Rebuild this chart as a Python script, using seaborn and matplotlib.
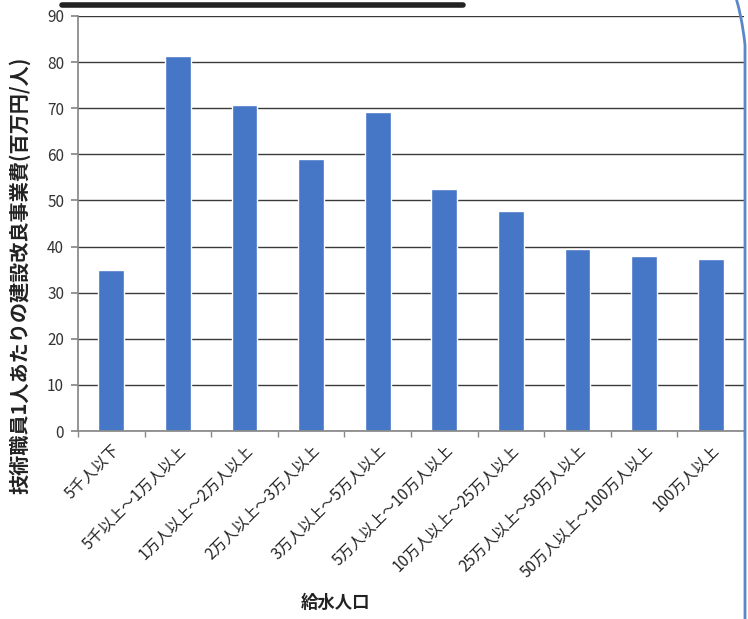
import matplotlib
matplotlib.use("Agg")
import matplotlib.pyplot as plt
import seaborn as sns
import pandas as pd
from matplotlib.lines import Line2D
from matplotlib.path import Path
from matplotlib.patches import PathPatch

categories = ["5千人以下", "5千以上～1万人以上", "1万人以上～2万人以上", "2万人以上～3万人以上",
              "3万人以上～5万人以上", "5万人以上～10万人以上", "10万人以上～25万人以上",
              "25万人以上～50万人以上", "50万人以上～100万人以上", "100万人以上"]
values = [35.0, 81.4, 70.6, 58.9, 69.2, 52.5, 47.8, 39.5, 37.9, 37.4]
yticks = [0, 10, 20, 30, 40, 50, 60, 70, 80, 90]

sns.set_theme(style="white")
plt.rcParams['font.family'] = ['Noto Sans CJK JP', 'DejaVu Sans']

W, H = 748, 619
fig = plt.figure(figsize=(W / 100, H / 100), dpi=100)
ax = fig.add_axes([78 / W, 1 - 431 / H, (744 - 78) / W, (431 - 16) / H])

df = pd.DataFrame({"cat": categories, "val": values})
sns.barplot(data=df, x="cat", y="val", color="#4676C6", saturation=1, width=0.39, ax=ax)

ax.set_ylim(0, 90)
ax.set_xlim(-0.5, len(categories) - 0.5)
ax.set_yticks(yticks)
ax.yaxis.grid(True, color="#3a3a3a", linewidth=1.0)
ax.set_axisbelow(True)
for s in ["top", "right"]:
    ax.spines[s].set_visible(False)
ax.spines["left"].set_color("#888888")
ax.spines["bottom"].set_color("#888888")

ax.tick_params(axis="y", which="major", direction="out", length=5, color="#888888",
               labelsize=11, labelcolor="#333333", left=True, pad=5)
ax.set_xticks(range(len(categories)))
ax.set_xticklabels(categories, rotation=45, ha="right", rotation_mode="anchor",
                   fontsize=11, color="#222222")
ax.tick_params(axis="x", which="major", length=0, pad=8)
ax.set_xticks([i + 0.5 for i in range(-1, len(categories))], minor=True)
ax.tick_params(axis="x", which="minor", direction="out", length=4, color="#888888", bottom=True)

ax.set_xlabel("給水人口", fontsize=12.5, fontweight="bold", color="#222222")
ax.xaxis.set_label_coords((335 - 78) / 666, -(594 - 431) / 415)
ax.set_ylabel("技術職員1人あたりの建設改良事業費(百万円/人)", fontsize=14.5,
              fontweight="bold", color="#222222")
ax.yaxis.set_label_coords((30 - 78) / 666, (431 - 275) / 415)

# partially visible title underline at the top
fig.add_artist(Line2D([62 / W, 463 / W], [1 - 5 / H, 1 - 5 / H], color="#222222",
                      linewidth=4, transform=fig.transFigure))

# rounded blue frame on the right
verts = [(733 / W, 1.02), (742 / W, 1 - 15 / H), (745 / W, 1 - 45 / H), (745 / W, -0.02)]
codes = [Path.MOVETO, Path.CURVE3, Path.CURVE3, Path.LINETO]
fig.add_artist(PathPatch(Path(verts, codes), facecolor="none", edgecolor="#5B86C8",
                         linewidth=2, transform=fig.transFigure))

fig.savefig("out.png", dpi=100)
